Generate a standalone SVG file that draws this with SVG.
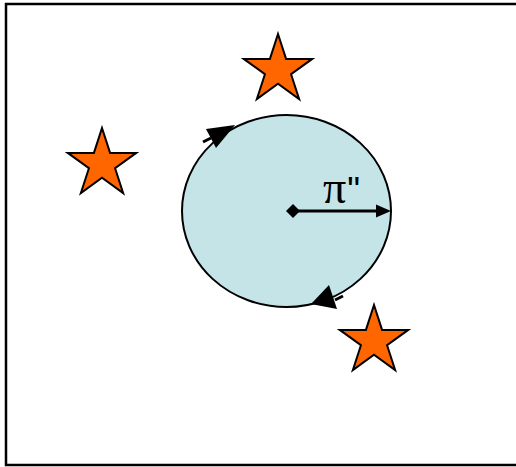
<svg xmlns="http://www.w3.org/2000/svg" width="516" height="467" viewBox="0 0 516 467">
<defs>
<style>
.frame{fill:none;stroke:#000;stroke-width:2.5}
.star{fill:#ff6600;stroke:#000;stroke-width:2;stroke-linejoin:miter}
.circ{fill:#c4e4e8;stroke:#000;stroke-width:2}
.line{fill:none;stroke:#000;stroke-width:3}
.head{fill:#000}
.pi{font-family:"Liberation Serif","Times New Roman",serif;font-size:46px;fill:#000}
.q{font-family:"Liberation Sans",Arial,sans-serif;font-size:36px;fill:#000}
</style>
<polygon id="st" points="0,-36 8.08,-11.12 34.24,-11.12 13.08,4.25 21.16,29.12 0,13.75 -21.16,29.12 -13.08,4.25 -34.24,-11.12 -8.08,-11.12"/>
</defs>
<rect width="516" height="467" fill="#fff"/>
<path class="frame" d="M516,4 L6,4 L6,465 L516,465"/>
<g id="star1"><use href="#st" class="star" x="278" y="70"/></g>
<g id="star2"><use href="#st" class="star" x="102" y="164"/></g>
<g id="star3"><use href="#st" class="star" x="374" y="341"/></g>
<g id="circle"><ellipse class="circ" cx="286.5" cy="211" rx="104.5" ry="96"/></g>
<g id="connectors">
<path d="M203,142 L211,138" class="line"/>
<polygon class="head" points="235,125 206,129 216,148"/>
<path d="M343,296 L335,300" class="line"/>
<polygon class="head" points="311,304 329,285 337,309"/>
<path d="M293,211 L380,211" class="line"/>
<polygon class="head" points="391,211 376,204.5 376,217.5"/>
<polygon class="head" points="293,204 300,211 293,218 286,211"/>
</g>
<g id="label"><text x="323" y="203"><tspan class="pi">π</tspan><tspan class="q" dx="1">"</tspan></text></g>
</svg>
